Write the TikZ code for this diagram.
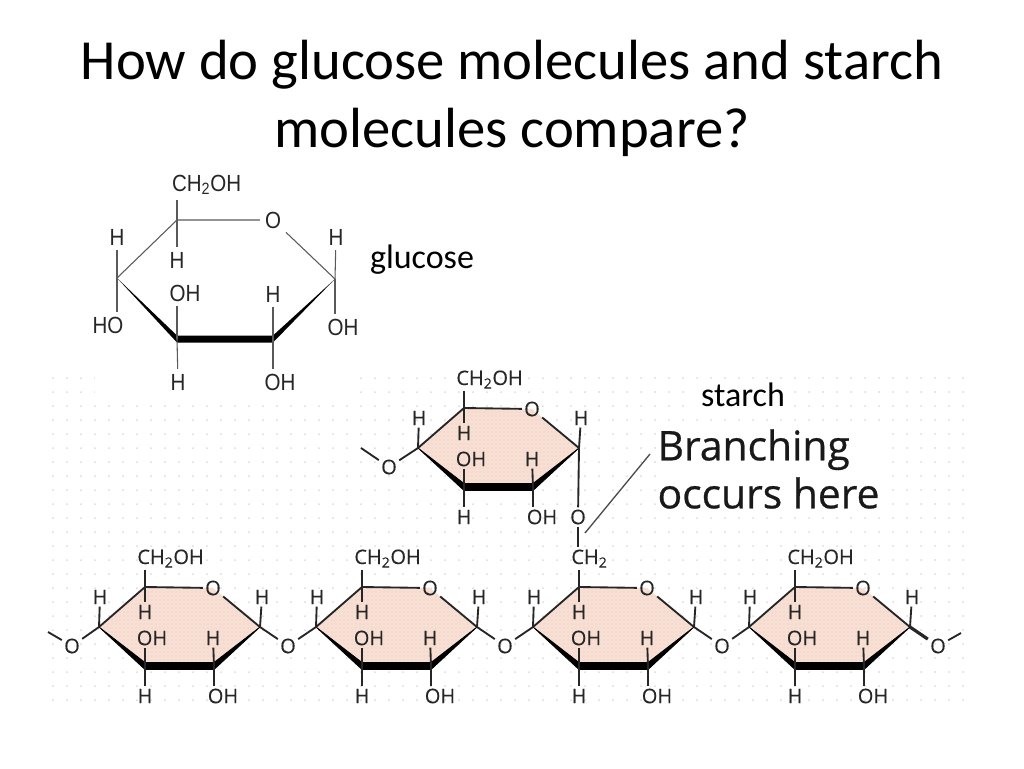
\documentclass[tikz,border=0pt]{standalone}
\usepackage{fontspec}
\usetikzlibrary{patterns}
\setmainfont{Carlito}
\newfontfamily\chemfont[FakeBold=0.3]{Open Sans}
\newfontfamily\notefont[FakeBold=0.6]{Open Sans}
\newfontfamily\glufont[FakeStretch=0.88]{Liberation Sans}
\definecolor{ringpink}{HTML}{F8DFD3}
\definecolor{ringdot}{HTML}{EFC9BA}
\definecolor{griddot}{HTML}{DADADA}
\definecolor{inkdark}{HTML}{262626}
\tikzset{
  atom/.style={inner sep=1.6pt, text=inkdark, font=\chemfont\fontsize{15}{17}\selectfont},
  gluatom/.style={inner sep=3.6pt, text=inkdark, font=\glufont\fontsize{17.5}{20}\selectfont},
  bond/.style={draw=inkdark, line width=1.4pt},
  glubond/.style={draw=black!65, line width=0.8pt},
  slidetext/.style={inner sep=1pt, text=black},
  pics/sugar/.style={code={
    \fill[ringpink, postaction={pattern=dots, pattern color=ringdot}]
      (0,0) -- (46,-40) -- (114,-39) -- (161,0) -- (115,39) -- (46,39) -- cycle;
    \coordinate (-cl) at (0,0);
    \coordinate (-ct) at (46,-40);
    \coordinate (-cr) at (161,0);
    \coordinate (-bl) at (46,39);
    \coordinate (-br) at (115,39);
    \node[atom] (-o) at (114,-39) {O};
    \node[atom, anchor=base west] (-ch) at (36,-63) {#1};
    \node[atom] (-hl) at (1,-30) {H};
    \node[atom] (-hi) at (46,-15) {H};
    \node[atom] (-oh) at (53,11) {OH};
    \node[atom] (-hj) at (114,11) {H};
    \node[atom] (-hr) at (163,-30) {H};
    \node[atom] (-hb) at (46,69) {H};
    \node[atom] (-oj) at (124,69) {OH};
    \draw[bond] (-cl) -- (-ct) -- (-o) -- (-cr);
    \fill[black, draw=black, line width=0.6pt] (-cl) -- (46,35.5) -- (115,35.5) -- (-cr)
      -- (115,42.5) -- (46,42.5) -- cycle;
    \draw[bond] (-ct) -- (-ct |- -ch.south);
    \draw[bond] (-ct) -- (-hi);
    \draw[bond] (-cl) -- (-hl);
    \draw[bond] (-cr) -- (-hr);
    \draw[bond] (-bl) -- (-bl |- -oh.south);
    \draw[bond] (-bl) -- (-hb);
    \draw[bond] (-br) -- (-hj);
    \draw[bond] (-br) -- (-br |- -oj.north);
  }},
}

\begin{document}
\begin{tikzpicture}[x=0.75pt, y=-0.75pt]
      \useasboundingbox (0,0) rectangle (1024,768);

      \foreach \i in {0,...,65} {
        \foreach \j in {0,...,23} {
          \fill[griddot] (53+14*\i,378+14*\j) circle (1);
        }
      }
      \fill[white] (95,370) rectangle (358,400);

      \node[slidetext, align=center, font=\fontsize{42.5}{51}\selectfont] (title) at (512,98)
        {How do glucose molecules and starch\\molecules compare?};
      \node[slidetext, fill=white, font=\fontsize{25.5}{30}\selectfont] (gluname) at (422,260) {glucose};
      \node[slidetext, fill=white, inner xsep=4pt, font=\fontsize{25.5}{30}\selectfont] (starchname) at (743,395) {starch};
      \node[slidetext, fill=white, align=left, anchor=west, inner ysep=3pt, text=black!90,
        font=\notefont\fontsize{30.6}{36}\selectfont] (branchnote) at (656,469) {Branching\\occurs here};

      \coordinate (g1) at (117,278);
      \coordinate (g2) at (177,220);
      \coordinate (g4) at (335,279);
      \coordinate (g5) at (273,339);
      \coordinate (g6) at (177,339);
      \node[gluatom] (g3) at (273,220) {O};
      \node[gluatom, anchor=base west] (gch) at (167,191) {CH\textsubscript{2}OH};
      \node[gluatom] (gh1) at (117,237) {H};
      \node[gluatom] (gh2) at (177,260) {H};
      \node[gluatom] (goh1) at (185,293) {OH};
      \node[gluatom] (gh3) at (273,294) {H};
      \node[gluatom] (gh4) at (336,237) {H};
      \node[gluatom] (gho) at (108,325) {HO};
      \node[gluatom] (goh2) at (343,327) {OH};
      \node[gluatom] (gh5) at (178,382) {H};
      \node[gluatom] (goh3) at (280,382) {OH};
      \draw[glubond] (g1) -- (g2) -- (g3) -- (g4);
      \fill[black] (g1) -- (177,335.5) -- (273,335.5) -- (g4) -- (273,342.5) -- (177,342.5) -- cycle;
      \draw[glubond] (g2) -- (g2 |- gch.south);
      \draw[glubond] (g2) -- (gh2);
      \draw[glubond] (g1) -- (gh1);
      \draw[glubond] (g1) -- (g1 |- gho.north);
      \draw[glubond] (g6) -- (g6 |- goh1.south);
      \draw[glubond] (g6) -- (gh5);
      \draw[glubond] (g5) -- (gh3);
      \draw[glubond] (g5) -- (g5 |- goh3.north);
      \draw[glubond] (g4) -- (gh4);
      \draw[glubond] (g4) -- (g4 |- goh2.north);

      \pic (r1) at (99,627) {sugar={CH\textsubscript{2}OH}};
      \pic (r2) at (316,627) {sugar={CH\textsubscript{2}OH}};
      \pic (r3) at (533,627) {sugar={CH\textsubscript{2}}};
      \pic (r4) at (749,627) {sugar={CH\textsubscript{2}OH}};
      \pic (r5) at (418,448) {sugar={CH\textsubscript{2}OH}};

      \coordinate (endl) at (48,632);
      \coordinate (endr) at (961,633);
      \coordinate (endt) at (361,448);
      \coordinate (notea) at (585,533);
      \coordinate (noteb) at (650,454);
      \node[atom] (o0) at (72,646) {O};
      \node[atom] (o1) at (288,646) {O};
      \node[atom] (o2) at (505,646) {O};
      \node[atom] (o3) at (722,646) {O};
      \node[atom] (o4) at (938,646) {O};
      \node[atom] (o5) at (389,467) {O};
      \node[atom] (o6) at (578,517) {O};
      \draw[bond] (endl) -- (o0) -- (r1-cl);
      \draw[bond] (r1-cr) -- (o1) -- (r2-cl);
      \draw[bond] (r2-cr) -- (o2) -- (r3-cl);
      \draw[bond] (r3-cr) -- (o3) -- (r4-cl);
      \draw[bond, line width=2.4pt] (r4-cr) -- (o4);
      \draw[bond] (o4) -- (endr);
      \draw[bond] (endt) -- (o5) -- (r5-cl);
      \draw[bond] (r5-cr) -- (o6);
      \draw[bond] (o6) -- (o6 |- r3-ch.north);
      \draw[bond, draw=black!70, line width=1pt] (notea) -- (noteb);
\end{tikzpicture}
\end{document}
